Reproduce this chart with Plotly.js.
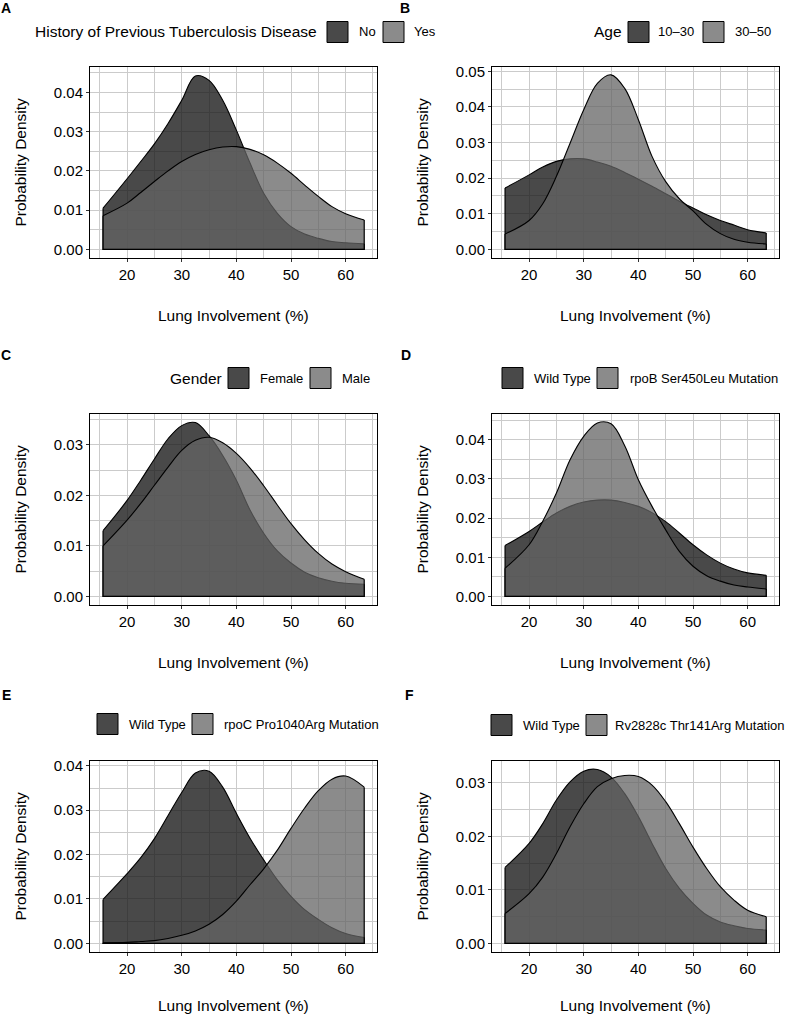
<!DOCTYPE html>
<html><head><meta charset="utf-8">
<script src="https://cdn.plot.ly/plotly-3.0.1.min.js"></script>
<style>html,body{margin:0;padding:0;background:#fff}</style>
</head><body><div id="chart" style="width:787px;height:1016px"></div>
<script>
// Shared x grid: lung involvement (%)
const lungX = [15.6, 20, 22.5, 25, 27.5, 30, 32.5, 35, 37.5, 40, 42.5, 45, 47.5, 50, 52.5, 55, 57.5, 60, 63.4];

// Panel A: History of previous TB
const histNo  = [0.0105, 0.0180, 0.0224, 0.0269, 0.0321, 0.0380, 0.0442, 0.0431, 0.0380, 0.0304, 0.0220, 0.0143, 0.0092, 0.0058, 0.0039, 0.0028, 0.0020, 0.0017, 0.0014];
const histYes = [0.0086, 0.0118, 0.0145, 0.0173, 0.0200, 0.0224, 0.0242, 0.0254, 0.0261, 0.0262, 0.0255, 0.0241, 0.0220, 0.0194, 0.0164, 0.0135, 0.0109, 0.0091, 0.0075];
// Panel B: Age
const age1030 = [0.0172, 0.0209, 0.0231, 0.0247, 0.0254, 0.0254, 0.0245, 0.0233, 0.0216, 0.0197, 0.0177, 0.0156, 0.0135, 0.0116, 0.0097, 0.0081, 0.0068, 0.0055, 0.0046];
const age3050 = [0.0043, 0.0081, 0.0128, 0.0205, 0.0298, 0.0392, 0.0466, 0.0490, 0.0452, 0.0364, 0.0261, 0.0190, 0.0142, 0.0108, 0.0070, 0.0044, 0.0028, 0.0020, 0.0015];
// Panel C: Gender
const female = [0.0130, 0.0190, 0.0230, 0.0272, 0.0312, 0.0338, 0.0344, 0.0318, 0.0279, 0.0230, 0.0171, 0.0125, 0.0090, 0.0066, 0.0048, 0.0037, 0.0030, 0.0026, 0.0024];
const male   = [0.0100, 0.0151, 0.0184, 0.0220, 0.0256, 0.0289, 0.0309, 0.0315, 0.0304, 0.0283, 0.0254, 0.0219, 0.0181, 0.0144, 0.0112, 0.0085, 0.0064, 0.0049, 0.0034];
// Panel D: rpoB Ser450Leu
const rpoBWild = [0.0130, 0.0166, 0.0190, 0.0213, 0.0230, 0.0241, 0.0246, 0.0246, 0.0240, 0.0230, 0.0214, 0.0191, 0.0162, 0.0132, 0.0106, 0.0085, 0.0070, 0.0060, 0.0054];
const rpoBMut  = [0.0072, 0.0132, 0.0192, 0.0264, 0.0349, 0.0409, 0.0443, 0.0441, 0.0385, 0.0298, 0.0230, 0.0170, 0.0115, 0.0077, 0.0053, 0.0039, 0.0029, 0.0024, 0.0019];
// Panel E: rpoC Pro1040Arg
const rpoCWild = [0.0099, 0.0157, 0.0193, 0.0236, 0.0288, 0.0340, 0.0384, 0.0388, 0.0352, 0.0293, 0.0237, 0.0188, 0.0143, 0.0106, 0.0076, 0.0054, 0.0035, 0.0022, 0.0013];
const rpoCMut  = [0.0001, 0.0002, 0.0004, 0.0006, 0.0011, 0.0018, 0.0028, 0.0043, 0.0065, 0.0095, 0.0132, 0.0168, 0.0210, 0.0259, 0.0305, 0.0344, 0.0370, 0.0377, 0.0352];
// Panel F: Rv2828c Thr141Arg
const rvWild = [0.0142, 0.0187, 0.0224, 0.0268, 0.0302, 0.0322, 0.0325, 0.0311, 0.0280, 0.0237, 0.0187, 0.0140, 0.0103, 0.0075, 0.0053, 0.0040, 0.0033, 0.0028, 0.0025];
const rvMut  = [0.0056, 0.0093, 0.0124, 0.0168, 0.0218, 0.0261, 0.0293, 0.0308, 0.0314, 0.0312, 0.0296, 0.0265, 0.0224, 0.0180, 0.0140, 0.0106, 0.0081, 0.0062, 0.0050];

const panelLetters = ['A', 'B', 'C', 'D', 'E', 'F'];
const legendTitles = ['History of Previous Tuberculosis Disease', 'Age', 'Gender', '', '', ''];
const legendLabels = [['No', 'Yes'], ['10\u201330', '30\u201350'], ['Female', 'Male'],
  ['Wild Type', 'rpoB Ser450Leu Mutation'], ['Wild Type', 'rpoC Pro1040Arg Mutation'], ['Wild Type', 'Rv2828c Thr141Arg Mutation']];
const seriesDark = [histNo, age1030, female, rpoBWild, rpoCWild, rvWild];
const seriesLight = [histYes, age3050, male, rpoBMut, rpoCMut, rvMut];
const yMaxTick = [0.04, 0.05, 0.03, 0.04, 0.04, 0.03];
const xTitle = 'Lung Involvement (%)';
const yTitle = 'Probability Density';

// ---- layout geometry (pixels) ----
const W = 787, H = 1016;
const FONT = 'Liberation Sans, Arial, Helvetica, sans-serif';
const DARK = 'rgba(22,22,22,0.78)';
const LIGHT = 'rgba(100,100,100,0.75)';
const GRID = '#cbcbcb';
const plotBoxes = [
  {l: 90, r: 377, t: 67, b: 258},
  {l: 492, r: 779, t: 67, b: 258},
  {l: 90, r: 377, t: 414, b: 605},
  {l: 492, r: 779, t: 414, b: 605},
  {l: 90, r: 377, t: 761, b: 952},
  {l: 492, r: 779, t: 761, b: 952}
];
const xTitleOffset = [57, 57, 57, 57, 53, 53];
const yRanges = [[-0.0022, 0.0465], [-0.00244, 0.0512], [-0.0017, 0.0361], [-0.0022, 0.0466], [-0.00196, 0.0411], [-0.0016, 0.0341]];
const letterPos = [[6, 8], [405, 8], [6, 355], [406, 355], [6, 695], [409, 695]];
// legend: [titleX(left), sq1 left, text1 left, sq2 left, text2 left, centerY]
const legendPos = [
  [33, 327, 357, 383, 412, 32],
  [592, 628, 656, 703, 733, 32],
  [168, 228, 258, 310, 340, 378],
  [null, 502, 532, 597, 628, 378],
  [null, 97, 127, 192, 222, 724],
  [null, 491, 521, 586, 613, 725]
];

const px = v => v / W;
const py = v => 1 - v / H;

const traces = [];
const layout = {
  width: W, height: H,
  margin: {l: 0, r: 0, t: 0, b: 0},
  paper_bgcolor: '#fff', plot_bgcolor: '#fff',
  showlegend: false,
  font: {family: FONT, color: '#000'},
  annotations: [], shapes: []
};

function addPolygon(xa, ya, y, fill) {
  const n = lungX.length;
  traces.push({
    type: 'scatter', mode: 'lines', x: lungX, y: y, xaxis: xa, yaxis: ya,
    fill: 'tozeroy', fillcolor: fill,
    line: {color: '#000', width: 1.1, shape: 'spline', smoothing: 1},
    hoverinfo: 'skip', showlegend: false
  });
  traces.push({
    type: 'scatter', mode: 'lines',
    x: [lungX[0], lungX[0], lungX[n - 1], lungX[n - 1]],
    y: [y[0], 0, 0, y[n - 1]],
    xaxis: xa, yaxis: ya,
    line: {color: '#000', width: 1.2},
    hoverinfo: 'skip', showlegend: false
  });
}

for (let i = 0; i < 6; i++) {
  const k = i === 0 ? '' : String(i + 1);
  const xa = 'x' + k, ya = 'y' + k;
  const box = plotBoxes[i];
  addPolygon(xa, ya, seriesDark[i], DARK);
  addPolygon(xa, ya, seriesLight[i], LIGHT);

  const common = {
    ticks: 'outside', ticklen: 3, tickcolor: '#333', tickwidth: 1,
    showline: true, mirror: true, linecolor: '#000', linewidth: 1,
    showgrid: true, gridcolor: GRID, gridwidth: 1,
    zeroline: false, tickfont: {family: FONT, size: 15, color: '#000'},
    fixedrange: true
  };
  layout['xaxis' + k] = Object.assign({}, common, {
    domain: [px(box.l), px(box.r)], anchor: ya,
    range: [13.21, 65.74], tick0: 0, dtick: 10,
    minor: {tick0: 0, dtick: 5, showgrid: true, gridcolor: GRID, gridwidth: 1, ticks: ''}
  });
  const tv = [];
  for (let t = 0; t <= yMaxTick[i] + 1e-9; t += 0.01) tv.push(+t.toFixed(2));
  layout['yaxis' + k] = Object.assign({}, common, {
    domain: [py(box.b), py(box.t)], anchor: xa,
    range: yRanges[i], tickvals: tv, tickformat: '.2f',
    minor: {tick0: 0.005, dtick: 0.01, showgrid: true, gridcolor: GRID, gridwidth: 1, ticks: ''}
  });

  // panel letter
  layout.annotations.push({
    xref: 'paper', yref: 'paper', x: px(letterPos[i][0]), y: py(letterPos[i][1]),
    xanchor: 'center', yanchor: 'middle', showarrow: false,
    text: '<b>' + panelLetters[i] + '</b>', font: {family: FONT, size: 14, color: '#000'}
  });
  // axis titles
  layout.annotations.push({
    xref: 'paper', yref: 'paper', x: px((box.l + box.r) / 2), y: py(box.b + xTitleOffset[i]),
    xanchor: 'center', yanchor: 'middle', showarrow: false,
    text: xTitle, font: {family: FONT, size: 15.5, color: '#000'}
  });
  layout.annotations.push({
    xref: 'paper', yref: 'paper', x: px(box.l - 70), y: py((box.t + box.b) / 2),
    xanchor: 'center', yanchor: 'middle', showarrow: false, textangle: -90,
    text: yTitle, font: {family: FONT, size: 15.5, color: '#000'}
  });

  // legend
  const lp = legendPos[i];
  const cy = lp[5];
  if (legendTitles[i]) {
    layout.annotations.push({
      xref: 'paper', yref: 'paper', x: px(lp[0]), y: py(cy),
      xanchor: 'left', yanchor: 'middle', showarrow: false,
      text: legendTitles[i], font: {family: FONT, size: 15.5, color: '#000'}
    });
  }
  [[lp[1], lp[2], DARK, legendLabels[i][0]], [lp[3], lp[4], LIGHT, legendLabels[i][1]]].forEach(function (e) {
    layout.shapes.push({
      type: 'rect', xref: 'paper', yref: 'paper',
      x0: px(e[0]), x1: px(e[0] + 21), y0: py(cy + 10.5), y1: py(cy - 10.5),
      fillcolor: e[2], line: {color: '#000', width: 1}
    });
    layout.annotations.push({
      xref: 'paper', yref: 'paper', x: px(e[1]), y: py(cy),
      xanchor: 'left', yanchor: 'middle', showarrow: false,
      text: e[3], font: {family: FONT, size: 13, color: '#000'}
    });
  });
}

Plotly.newPlot('chart', traces, layout, {displayModeBar: false, staticPlot: true});
</script>
</body></html>
